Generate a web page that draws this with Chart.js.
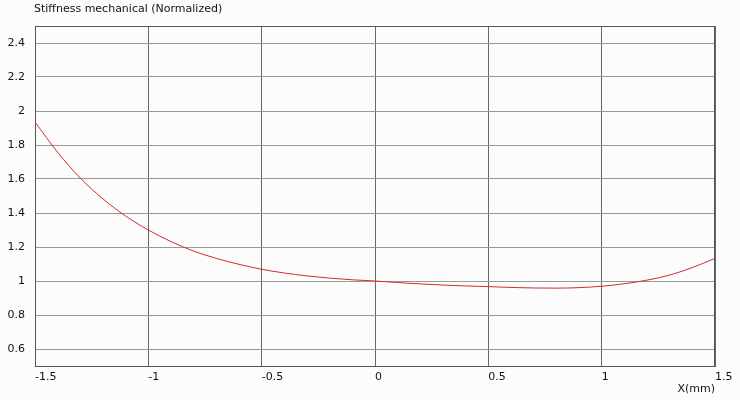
<!DOCTYPE html>
<html>
<head>
<meta charset="utf-8">
<script src="https://cdn.jsdelivr.net/npm/chart.js@4/dist/chart.umd.min.js"></script>
<style>
  html, body { margin: 0; padding: 0; background: #fcfcfc; }
  #wrap { width: 740px; height: 400px; }
</style>
</head>
<body>
<div id="wrap"><canvas id="chart"></canvas></div>
<script>
const chartTitle = 'Stiffness mechanical (Normalized)';
const xAxisLabel = 'X(mm)';
const xPositions = [-1.5, -1.4, -1.3, -1.2, -1.1, -1.0, -0.9, -0.8, -0.7, -0.6, -0.5, -0.4, -0.3, -0.2, -0.1, 0,
    0.1, 0.2, 0.3, 0.4, 0.5, 0.6, 0.7, 0.8, 0.9, 1.0, 1.1, 1.2, 1.3, 1.4, 1.5];
const stiffness = [1.935, 1.757, 1.605, 1.483, 1.382, 1.3, 1.232, 1.176, 1.133, 1.098, 1.069, 1.047, 1.03, 1.017, 1.007, 1.0,
    0.991, 0.983, 0.976, 0.971, 0.967, 0.962, 0.959, 0.958, 0.961, 0.969, 0.984, 1.005, 1.035, 1.079, 1.133];
const xTicks = [-1.5, -1, -0.5, 0, 0.5, 1, 1.5];
const yTicks = [0.6, 0.8, 1, 1.2, 1.4, 1.6, 1.8, 2, 2.2, 2.4];

const fontFamily = { family: 'DejaVu Sans', size: 11 };
const textColor = '#111';

const frame = {
    id: 'frame',
    beforeDatasetsDraw(chart) {
        const { ctx, chartArea: a } = chart;
        ctx.save();
        ctx.strokeStyle = '#555';
        ctx.lineWidth = 1;
        ctx.strokeRect(Math.round(a.left) + 0.5, Math.round(a.top) + 0.5, Math.round(a.right - a.left) - 1, Math.round(a.bottom - a.top));
        ctx.restore();
    },
    afterDraw(chart) {
        const { ctx, chartArea: a } = chart;
        ctx.save();
        ctx.font = '11px "DejaVu Sans"';
        ctx.fillStyle = textColor;
        ctx.textBaseline = 'middle';
        ctx.fillText(chartTitle, a.left - 1, 9);
        ctx.restore();
    },
};

new Chart(document.getElementById('chart'), {
    type: 'line',
    data: {
        datasets: [{
            data: xPositions.map((x, i) => ({ x, y: stiffness[i] })),
            borderColor: '#d42a2a',
            borderWidth: 1,
            pointRadius: 0,
            cubicInterpolationMode: 'monotone',
            fill: false,
        }],
    },
    options: {
        responsive: true,
        maintainAspectRatio: false,
        animation: false,
        layout: { padding: { left: 0, right: 25, top: 26, bottom: 0 } },
        plugins: { legend: { display: false }, tooltip: { enabled: false } },
        scales: {
            x: {
                type: 'linear',
                min: -1.5,
                max: 1.5,
                afterBuildTicks: scale => { scale.ticks = xTicks.map(value => ({ value })); },
                afterFit: scale => { scale.height = 34; },
                ticks: { color: textColor, font: fontFamily, align: 'start', padding: 5, maxRotation: 0, autoSkip: false, callback: value => String(value) },
                grid: { color: '#666', drawTicks: false },
                border: { color: '#555' },
                title: { display: true, text: xAxisLabel, align: 'end', color: textColor, font: fontFamily, padding: { top: 0, bottom: 4 } },
            },
            y: {
                min: 0.5,
                max: 2.5,
                afterBuildTicks: scale => { scale.ticks = yTicks.map(value => ({ value })); },
                afterFit: scale => { scale.width = 35; },
                ticks: { color: textColor, font: fontFamily, padding: 10, autoSkip: false, callback: value => String(value) },
                grid: { color: '#999', drawTicks: false },
                border: { color: '#555' },
            },
        },
    },
    plugins: [frame],
});
</script>
</body>
</html>
